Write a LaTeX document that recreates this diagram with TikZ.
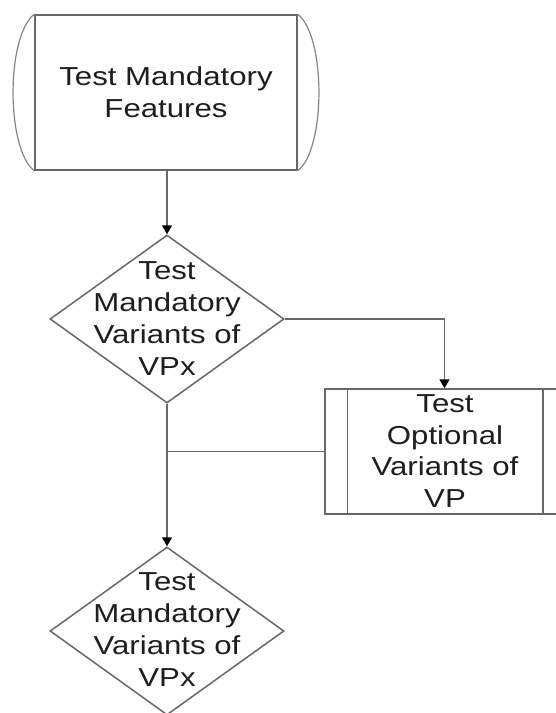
\documentclass[tikz,border=0pt]{standalone}
\usepackage{fontspec}
\newfontfamily\flowfont[FakeStretch=1.2]{Liberation Sans}
\usetikzlibrary{shapes.geometric,arrows.meta}
\definecolor{edge}{HTML}{686868}
\definecolor{ink}{HTML}{1E1E1E}
\tikzset{
  flowline/.style={draw=edge, line width=1.5pt},
  flowarrow/.style={flowline, -{Triangle[width=10pt,length=9pt,fill=black,color=black]}},
  flowtext/.style={text=ink, align=center, inner sep=0pt,
    font=\flowfont\fontsize{26}{31.8}\selectfont},
  procbox/.style={flowline, rectangle, inner sep=0pt},
  decision/.style={flowline, diamond, inner sep=0pt,
    minimum width=234pt, minimum height=168pt},
}
\begin{document}
\begin{tikzpicture}[x=1pt,y=-1pt]
\useasboundingbox (0,0) rectangle (556,713);
\fill[white] (0,0) rectangle (556,713);

% top process with rounded end caps
\node[procbox, minimum width=262pt, minimum height=155pt] (feat) at (166,92.5) {};
\draw[flowline, draw=edge!80, line width=1.2pt]
  (feat.north west) .. controls (6,36) and (6,149) .. (feat.south west);
\draw[flowline, draw=edge!80, line width=1.2pt]
  (feat.north east) .. controls (326,36) and (326,149) .. (feat.south east);
\node[flowtext] (featlbl) at (feat.center) {Test Mandatory\\Features};

% first decision
\node[decision] (dec1) at (167,319) {};
\node[flowtext] (dec1lbl) at (167,318.5) {Test\\Mandatory\\Variants of\\VPx};

% predefined process for optional variants
\node[procbox, minimum width=239pt, minimum height=125pt] (opt) at (444.5,451.5) {};
\draw[flowline] ([xshift=23pt]opt.north west) -- ([xshift=23pt]opt.south west);
\draw[flowline] ([xshift=-22pt]opt.north east) -- ([xshift=-22pt]opt.south east);
\node[flowtext] (optlbl) at (445,451) {Test\\Optional\\Variants of\\VP};

% second decision
\node[decision] (dec2) at (167,631) {};
\node[flowtext] (dec2lbl) at (167,629.5) {Test\\Mandatory\\Variants of\\VPx};

% connectors
\coordinate (join) at (dec1.south |- opt.west);
\draw[flowarrow] (feat.south -| dec1.north) -- (dec1.north);
\draw[flowarrow] (dec1.east) -| (opt.north);
\draw[flowline] (opt.west) -- (join);
\draw[flowarrow] (dec1.south) -- (dec2.north);
\end{tikzpicture}
\end{document}
